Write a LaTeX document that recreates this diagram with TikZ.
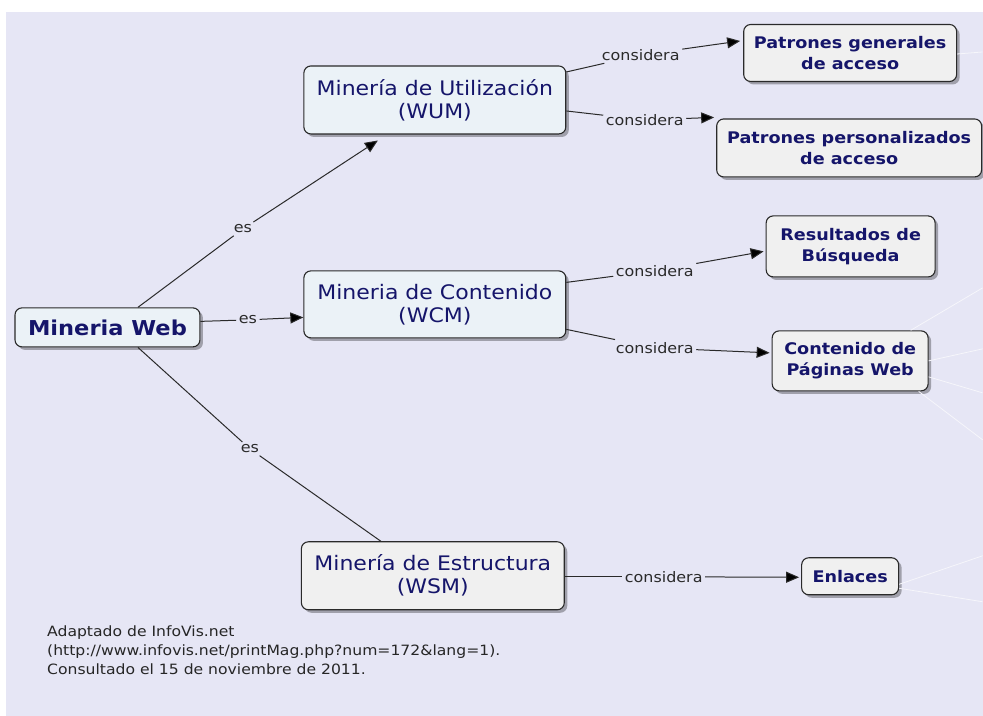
\documentclass[tikz,border=0pt]{standalone}
\usepackage{fontspec}
\setmainfont{DejaVu Sans}[FakeStretch=1.1]
\usetikzlibrary{arrows.meta,shadows}
\definecolor{bg}{HTML}{E6E6F5}
\definecolor{navy}{HTML}{15156A}
\definecolor{edgec}{HTML}{2A2A2A}
\definecolor{bluefill}{HTML}{EBF2F7}
\definecolor{grayfill}{HTML}{F0F0F0}
\begin{document}
\begin{tikzpicture}[x=1pt,y=-1pt,
  box/.style={draw=edgec, line width=1.1pt, rounded corners=7pt, inner sep=0pt,
    text=navy, align=center,
    drop shadow={shadow xshift=3pt, shadow yshift=-3pt, fill=black, opacity=0.3}},
  bluebox/.style={box, fill=bluefill},
  graybox/.style={box, fill=grayfill},
  mainfont/.style={font=\fontsize{20}{23}\selectfont},
  boldfont/.style={font=\bfseries\fontsize{16}{21}\selectfont},
  lbl/.style={text=edgec, font=\fontsize{14.5}{16}\selectfont, inner sep=2.5pt},
  conn/.style={draw=edgec, line width=1pt},
  arr/.style={conn, -{Triangle[length=13pt,width=11pt,fill=black]}},
  faint/.style={draw=white!65!bg, line width=0.8pt}
]
\fill[white] (0,0) rectangle (983,716);
\fill[bg] (6,12) rectangle (983,716);

% nodes
\node[bluebox, font=\bfseries\fontsize{20.5}{24}\selectfont, minimum width=185pt, minimum height=39pt] (mw) at (107.5,327.5) {Mineria Web};
\node[bluebox, mainfont, minimum width=262pt, minimum height=68pt] (wum) at (435,100) {Minería de Utilización\\(WUM)};
\node[bluebox, mainfont, minimum width=262pt, minimum height=67pt] (wcm) at (435,304.5) {Mineria de Contenido\\(WCM)};
\node[graybox, mainfont, minimum width=263pt, minimum height=68pt] (wsm) at (433,576) {Minería de Estructura\\(WSM)};
\node[graybox, boldfont, minimum width=213pt, minimum height=57pt] (pg) at (850.5,53) {Patrones generales\\de acceso};
\node[graybox, boldfont, minimum width=265pt, minimum height=58pt] (pp) at (849.5,148) {Patrones personalizados\\de acceso};
\node[graybox, boldfont, minimum width=169pt, minimum height=61pt] (rb) at (851,246.5) {Resultados de\\Búsqueda};
\node[graybox, boldfont, minimum width=156pt, minimum height=60pt] (cp) at (850.5,361) {Contenido de\\Páginas Web};
\node[graybox, boldfont, minimum width=97pt, minimum height=37pt] (en) at (850.5,576.5) {Enlaces};

% faint connectors leaving the picture
\coordinate (f1) at (983,52);
\coordinate (f2) at (983,288);
\coordinate (f3) at (983,349);
\coordinate (f4) at (983,393);
\coordinate (f5) at (983,440);
\coordinate (f6) at (983,556);
\coordinate (f7) at (983,602);
\draw[faint] ([yshift=-1pt]pg.east) -- (f1);
\draw[faint] ([xshift=-18pt]cp.north east) -- (f2);
\draw[faint] (cp.east) -- (f3);
\draw[faint] ([yshift=-16pt]cp.east) -- (f4);
\draw[faint] ([xshift=-10pt]cp.south east) -- (f5);
\draw[faint] ([yshift=-8pt]en.east) -- (f6);
\draw[faint] ([yshift=-12pt]en.east) -- (f7);

% label nodes
\node[lbl] (l1) at (243,229) {es};
\node[lbl] (l2) at (248,320) {es};
\node[lbl] (l3) at (250,449) {es};
\node[lbl] (l4) at (641,55) {considera};
\node[lbl] (l5) at (645,120) {considera};
\node[lbl] (l6) at (655,271) {considera};
\node[lbl] (l7) at (655,348) {considera};
\node[lbl] (l8) at (664,577) {considera};

% connectors
\draw[conn] ([xshift=30.5pt]mw.north) -- (l1);
\draw[arr] (l1) -- ([xshift=-57pt,yshift=-6pt]wum.south);
\draw[conn] ([yshift=6pt]mw.east) -- (l2);
\draw[arr] (l2) -- ([yshift=-13pt]wcm.west);
\draw[conn] ([xshift=30.5pt]mw.south) -- (l3);
\draw[conn] (l3) -- ([xshift=-52pt]wsm.north);

\draw[conn] ([yshift=28pt]wum.east) -- (l4);
\draw[arr] (l4) -- ([xshift=-3pt,yshift=12pt]pg.west);
\draw[conn] ([yshift=-11pt]wum.east) -- (l5);
\draw[arr] (l5) -- ([xshift=-2pt,yshift=1pt]pp.north west);
\draw[conn] ([yshift=22pt]wcm.east) -- (l6);
\draw[arr] (l6) -- ([xshift=-2pt,yshift=-5pt]rb.west);
\draw[conn] ([yshift=-25pt]wcm.east) -- (l7);
\draw[arr] (l7) -- ([xshift=-2pt,yshift=8pt]cp.west);
\draw[conn] ([yshift=-1pt]wsm.east) -- (l8);
\draw[arr] (l8) -- ([xshift=-2pt,yshift=-1pt]en.west);

% source note
\node[anchor=north west, align=left, inner sep=0pt, text=black!85,
  font=\fontsize{14.2}{19}\selectfont] (note) at (47,626)
  {Adaptado de InfoVis.net\\(http://www.infovis.net/printMag.php?num=172\&lang=1).\\Consultado el 15 de noviembre de 2011.};
\end{tikzpicture}
\end{document}
